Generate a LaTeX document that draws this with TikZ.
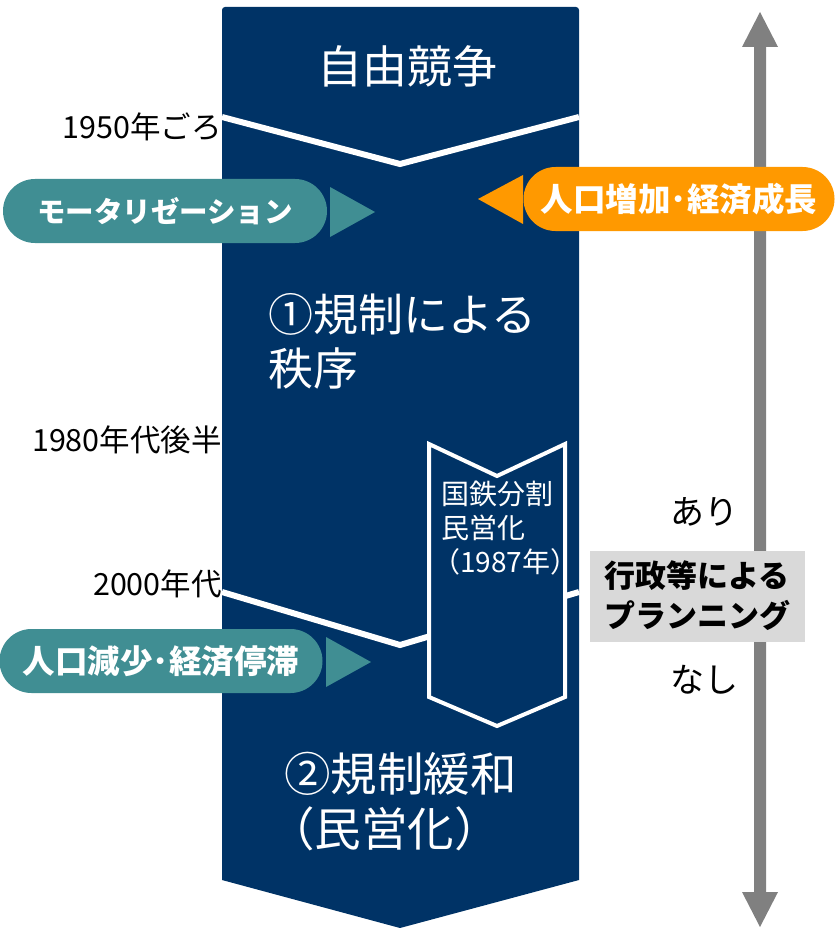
\documentclass[tikz,border=0pt]{standalone}
\usepackage{fontspec}
\setmainfont{Noto Sans CJK JP}
\begin{document}
\begin{tikzpicture}[x=1pt,y=-1pt]
\definecolor{navy}{RGB}{0,51,102}
\definecolor{tealc}{RGB}{64,142,147}
\definecolor{orng}{RGB}{255,153,0}
\definecolor{lgray}{RGB}{217,217,217}
\definecolor{dgray}{RGB}{128,128,128}
\tikzset{
  big/.style={text=white, font=\fontsize{45}{54}\selectfont, inner sep=0pt, align=left},
  yearlbl/.style={text=black, font=\fontsize{30.5}{34}\selectfont, inner sep=0pt, anchor=east},
  pill/.style={rounded corners=32pt, inner sep=0pt, text=white, font=\bfseries\fontsize{32.5}{36}\selectfont},
  sep/.style={white, line width=6pt, line join=miter},
}
\useasboundingbox (0,0) rectangle (836,928);

% vertical planning axis
\fill[dgray] (760,12) -- (778,47) -- (766,47) -- (766,892) -- (778,892) -- (760,927)
  -- (742,892) -- (754,892) -- (754,47) -- (742,47) -- cycle;

% main column
\fill[navy] (222,880) [rounded corners=3pt] -- (222,7) -- (579,7) [sharp corners] -- (579,880) -- (400,928) -- cycle;

% separator lines
\coordinate (l1a) at (222,117);
\coordinate (l1b) at (400,164);
\coordinate (l1c) at (579,117);
\draw[sep] (l1a) -- (l1b) -- (l1c);
\coordinate (l2a) at (222,592);
\coordinate (l2b) at (400,645);
\coordinate (l2c) at (579,592);
\draw[sep] (l2a) -- (l2b) -- (l2c);

% inner chevron
\draw[white, line width=4pt, fill=navy, line join=miter]
  (429,444) -- (497,476) -- (565,444) -- (565,697) -- (497,726) -- (429,697) -- cycle;
\node[text=white, font=\fontsize{28}{34}\selectfont, inner sep=0pt, anchor=north west, align=left] (jnr) at (441,481)
  {国鉄分割\\民営化\\\hspace*{-9pt}（1987年）};

% big texts
\node[big] (jiyu) at (407,66) {自由競争};
\node[big, anchor=west] (kisei1) at (268,341) {①規制による\\秩序};
\node[big, anchor=west, font=\fontsize{46.5}{55}\selectfont] (kisei2) at (284,802) {②規制緩和\\\hspace*{-16pt}（民営化）};

% year labels
\node[yearlbl] (y1950) at (222,127) {1950年ごろ};
\node[yearlbl] (y1980) at (222,440) {1980年代後半};
\node[yearlbl] (y2000) at (222,584) {2000年代};

% pills
\node[pill, fill=tealc, minimum width=324pt, minimum height=64pt, font=\bfseries\fontsize{28.5}{34}\selectfont] (moto) at (165,211) {モータリゼーション};
\fill[tealc] (330,187) -- (375,212) -- (330,237) -- cycle;
\node[pill, fill=tealc, minimum width=323pt, minimum height=64pt] (gensho) at (161,661) {人口減少･経済停滞};
\fill[tealc] (326,637) -- (371,662) -- (326,687) -- cycle;
\node[pill, fill=orng, minimum width=311pt, minimum height=64pt] (zoka) at (679,199) {人口増加･経済成長};
\fill[orng] (523,175) -- (478,199) -- (523,224) -- cycle;

% planning axis labels
\node[text=black, font=\fontsize{34}{40}\selectfont, inner sep=0pt] (ari) at (704,512) {あり};
\node[text=black, font=\fontsize{34}{40}\selectfont, inner sep=0pt] (nashi) at (704,680) {なし};
\node[fill=lgray, minimum width=215pt, minimum height=91pt, inner sep=0pt, align=center,
  font=\bfseries\fontsize{31}{40}\selectfont] (plan) at (697,596) {行政等による\\プランニング};
\end{tikzpicture}
\end{document}
